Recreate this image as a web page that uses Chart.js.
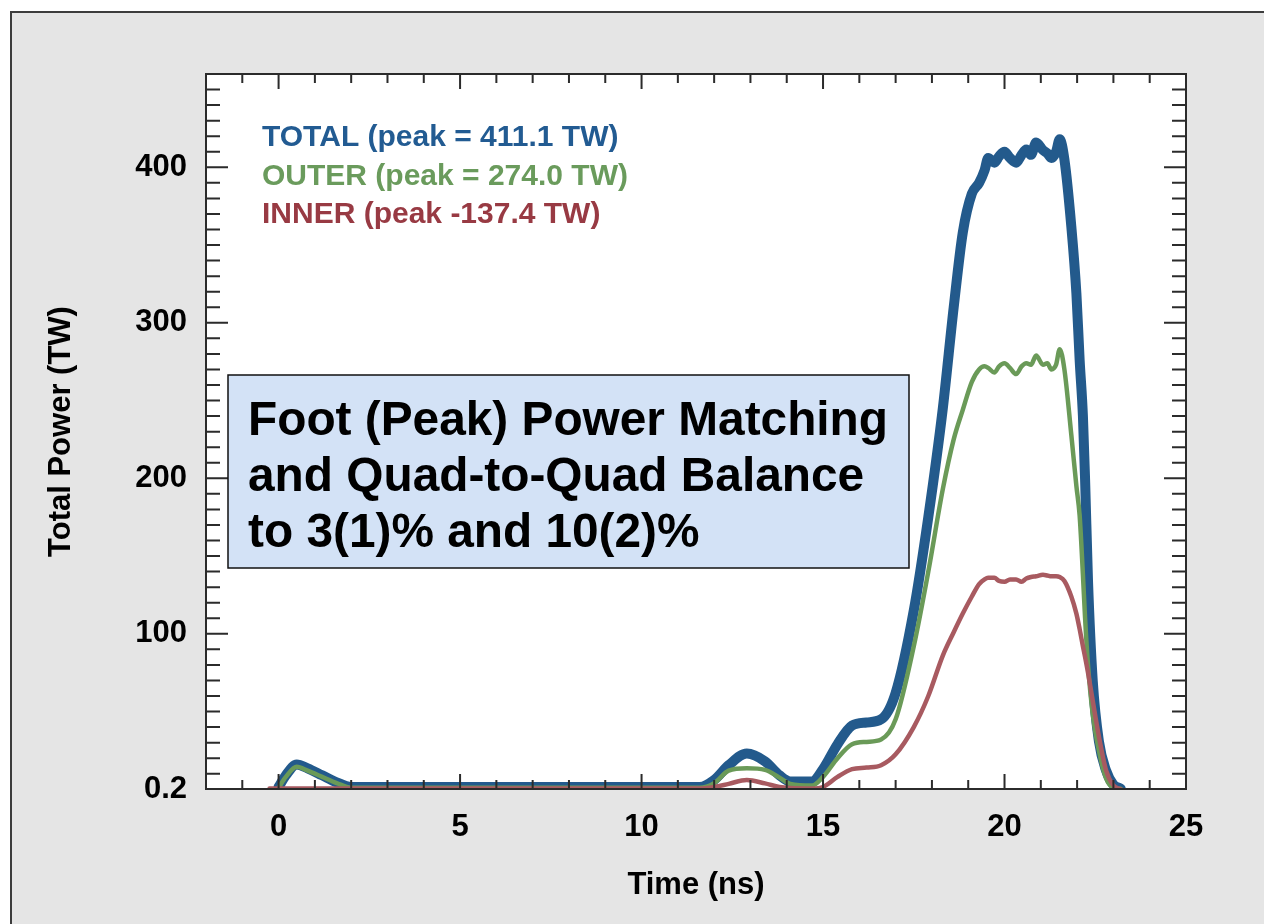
<!DOCTYPE html>
<html>
<head>
<meta charset="utf-8">
<script src="https://cdn.jsdelivr.net/npm/chart.js@4.4.1/dist/chart.umd.min.js"></script>
<style>
  html, body { margin: 0; padding: 0; background: #fff; }
  canvas { display: block; }
</style>
</head>
<body>
<canvas id="powerChart" width="1264" height="924"></canvas>
<script>
// laser pulse: power per beam group vs time
const timeNs = [-0.25, 0, 0.2, 0.5, 0.8, 1.2, 1.6, 2.0, 4, 6, 8, 10, 11.6, 12.0, 12.4, 12.9, 13.4, 13.8, 14.1, 14.7,
    15.0, 15.4, 15.8, 16.2, 16.6, 17.0, 17.5, 17.9, 18.3, 18.6, 18.85, 19.1, 19.3, 19.45, 19.55, 19.72, 19.85, 20.0,
    20.15, 20.32, 20.47, 20.6, 20.73, 20.87, 21.06, 21.18, 21.29, 21.42, 21.52, 21.65, 21.84, 21.98, 22.07, 22.16,
    22.22, 22.3, 22.43, 22.6, 22.8, 23.0, 23.2];
const totalTW = [null, 1.5, 9, 16, 13.5, 9, 4.5, 1.5, 1.5, 1.5, 1.5, 1.5, 1.5, 6, 15.5, 23, 18, 9, 5, 5,
    13, 29, 41, 43, 45, 62, 115, 175, 245, 310, 358, 383, 390, 398, 406, 403, 407, 410,
    406, 403, 408, 411.5, 408, 416, 411, 409, 406, 410, 418, 405, 362, 319, 276, 240,
    199, 134, 70, 31, 12, 3, 0.5];
const outerTW = [null, 1, 8, 14.5, 12, 8, 4, 1, 1, 1, 1, 1, 1, 4, 12, 13.5, 12.5, 7.5, 3.5, 2.5,
    8, 20, 29, 30.5, 32, 45, 92, 140, 193, 225, 244, 262, 270, 272, 271, 268, 272, 274,
    271, 267, 272, 274, 273, 279, 273, 274, 270, 273, 283, 270, 228, 195, 176, 138,
    110, 80, 48.5, 25, 7, 1, 0.3];
const innerTW = [0.5, 0.5, 0.5, 0.5, 0.5, 0.5, 0.5, 0.5, 0.5, 0.5, 0.5, 0.5, 0.5, 1.5, 3.5, 6, 3.8, 1.5, 0.8, 0.5,
    1.5, 8, 13, 14, 15.5, 22.5, 40, 60, 86, 101, 113, 124, 132, 135, 136, 136, 134, 133.5,
    135, 135, 133.5, 135.5, 136.5, 137, 138, 137.5, 137, 137, 136.5, 134, 124, 113, 103, 92,
    85, 75, 57, 34, 12, 2.5, 0];

const seriesLabels = ['TOTAL (peak = 411.1 TW)', 'OUTER (peak = 274.0 TW)', 'INNER (peak -137.4 TW)'];
const lineColors = ['#235a8c', '#6a9a58', '#a85a60'];
const labelColors = ['#225b92', '#6a9b5c', '#983a43'];

const xTicks = [0, 5, 10, 15, 20, 25];
const yTicks = [0.2, 100, 200, 300, 400];
const yTickLabels = ['0.2', '100', '200', '300', '400'];
const noteLines = ['Foot (Peak) Power Matching', 'and Quad-to-Quad Balance', 'to 3(1)% and 10(2)%'];

const FONT = '"Liberation Sans", Arial, Helvetica, sans-serif';
const axisFont = { family: FONT, size: 31, weight: 'bold' };

function points(values) {
    return timeNs.map((t, i) => ({ x: t, y: values[i] }));
}

// grey slide panel behind everything, white plot area
const panel = {
    id: 'panel',
    beforeDraw(chart) {
        const { ctx, width, height, chartArea: a } = chart;
        ctx.save();
        ctx.fillStyle = '#ffffff';
        ctx.fillRect(0, 0, width, height);
        ctx.fillStyle = '#e5e5e5';
        ctx.fillRect(10, 11, width, height);
        ctx.strokeStyle = '#3c3c3c';
        ctx.lineWidth = 2;
        ctx.beginPath();
        ctx.moveTo(11, height);
        ctx.lineTo(11, 12);
        ctx.lineTo(width, 12);
        ctx.stroke();
        ctx.fillStyle = '#ffffff';
        ctx.fillRect(a.left, a.top, a.width, a.height);
        ctx.restore();
    }
};

// inward tick marks on all four sides plus the box
const frameTicks = {
    id: 'frameTicks',
    afterDraw(chart) {
        const { ctx, chartArea: a, scales: { x, y } } = chart;
        ctx.save();
        ctx.strokeStyle = '#2b2b2b';
        ctx.lineWidth = 2;
        ctx.beginPath();
        for (let v = -1; v <= 24; v++) {
            const len = v % 5 === 0 ? 15 : 9;
            const px = x.getPixelForValue(v);
            ctx.moveTo(px, a.bottom);
            ctx.lineTo(px, a.bottom - len);
            ctx.moveTo(px, a.top);
            ctx.lineTo(px, a.top + len);
        }
        for (let v = 10; v <= 450; v += 10) {
            const len = v % 100 === 0 ? 22 : 14;
            const py = y.getPixelForValue(v);
            ctx.moveTo(a.left, py);
            ctx.lineTo(a.left + len, py);
            ctx.moveTo(a.right, py);
            ctx.lineTo(a.right - len, py);
        }
        ctx.stroke();
        ctx.strokeRect(a.left, a.top, a.width, a.height);
        ctx.restore();
    }
};

// coloured series labels in the top-left corner
const seriesText = {
    id: 'seriesText',
    afterDraw(chart) {
        const { ctx, chartArea: a } = chart;
        ctx.save();
        ctx.font = 'bold 30px ' + FONT;
        ctx.textBaseline = 'alphabetic';
        ctx.textAlign = 'left';
        seriesLabels.forEach((txt, i) => {
            ctx.fillStyle = labelColors[i];
            ctx.fillText(txt, a.left + 56, a.top + 72 + i * 38.5);
        });
        ctx.restore();
    }
};

// boxed note over the middle of the plot
const noteBox = {
    id: 'noteBox',
    afterDraw(chart) {
        const { ctx, chartArea: a } = chart;
        const bx = a.left + 22, by = a.top + 301, bw = 681, bh = 193;
        ctx.save();
        ctx.fillStyle = '#d3e2f6';
        ctx.fillRect(bx, by, bw, bh);
        ctx.strokeStyle = '#111';
        ctx.lineWidth = 1.5;
        ctx.strokeRect(bx, by, bw, bh);
        ctx.font = 'bold 48px ' + FONT;
        ctx.fillStyle = '#000';
        ctx.textBaseline = 'alphabetic';
        const sx = 640 / ctx.measureText(noteLines[0]).width;
        noteLines.forEach((line, i) => {
            ctx.save();
            ctx.translate(bx + 20, by + 60 + i * 56);
            ctx.scale(sx, 1);
            ctx.fillText(line, 0, 0);
            ctx.restore();
        });
        ctx.restore();
    }
};

new Chart(document.getElementById('powerChart'), {
    type: 'line',
    data: {
        datasets: [
            { label: seriesLabels[0], data: points(totalTW), borderColor: lineColors[0], borderWidth: 10, order: 3 },
            { label: seriesLabels[1], data: points(outerTW), borderColor: lineColors[1], borderWidth: 4.5, order: 2 },
            { label: seriesLabels[2], data: points(innerTW), borderColor: lineColors[2], borderWidth: 4.5, order: 1 }
        ].map(d => Object.assign(d, {
            pointRadius: 0,
            fill: false,
            cubicInterpolationMode: 'monotone',
            borderCapStyle: 'round',
            borderJoinStyle: 'round'
        }))
    },
    options: {
        responsive: false,
        animation: false,
        devicePixelRatio: 1,
        layout: { padding: { top: 74, right: 78, left: 0, bottom: 0 } },
        plugins: { legend: { display: false }, tooltip: { enabled: false } },
        scales: {
            x: {
                type: 'linear',
                min: -2,
                max: 25,
                afterBuildTicks: s => { s.ticks = xTicks.map(v => ({ value: v })); },
                afterFit: s => { s.height = 135; },
                grid: { display: false, drawTicks: false },
                border: { display: false },
                ticks: { color: '#000', font: axisFont, padding: 20, maxRotation: 0, autoSkip: false },
                title: { display: true, text: 'Time (ns)', color: '#000', font: axisFont, padding: { top: 0, bottom: 20 } }
            },
            y: {
                type: 'linear',
                min: 0.2,
                max: 460,
                afterBuildTicks: s => { s.ticks = yTicks.map(v => ({ value: v })); },
                afterFit: s => { s.width = 206; },
                grid: { display: false, drawTicks: false },
                border: { display: false },
                ticks: {
                    color: '#000', font: axisFont, padding: 19, autoSkip: false,
                    callback: v => yTickLabels[yTicks.indexOf(v)]
                },
                title: { display: true, text: 'Total Power (TW)', color: '#000', font: axisFont, padding: { top: 43, bottom: 0 } }
            }
        }
    },
    plugins: [panel, frameTicks, seriesText, noteBox]
});
</script>
</body>
</html>
